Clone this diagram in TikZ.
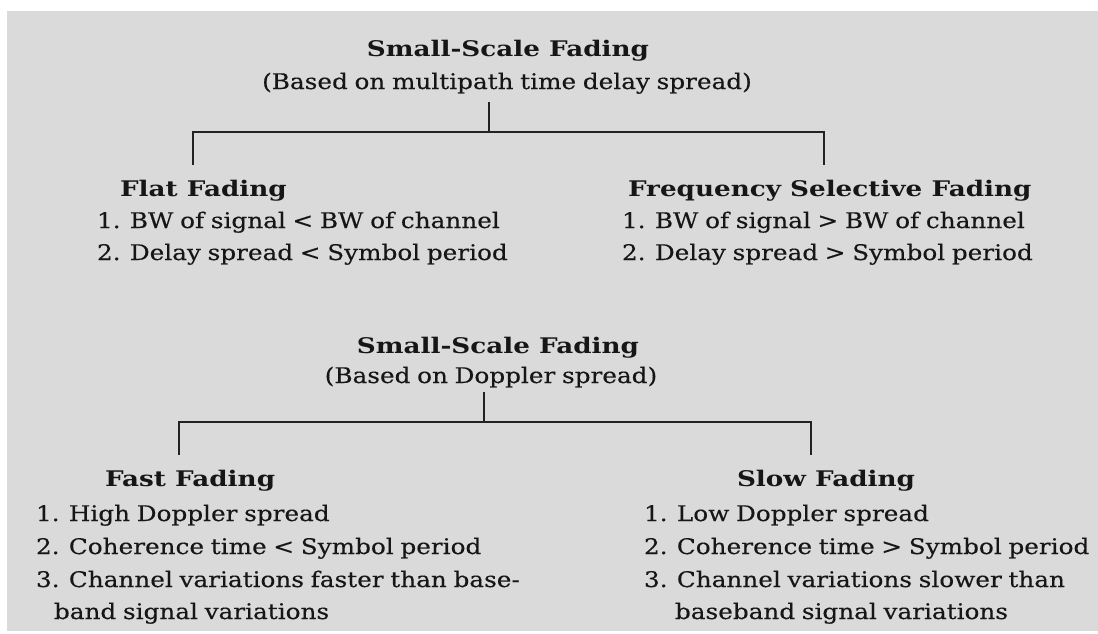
\documentclass[tikz,border=0pt]{standalone}
\usepackage{fontspec}
\setmainfont{DejaVu Serif}
% wide text faces for the body and the headings
\newfontfamily\bodyfont{DejaVu Serif}[FakeStretch=1.15, WordSpace=0.85, FakeBold=0.3]
\newfontfamily\headfont{DejaVu Serif}[FakeStretch=1.22]
\definecolor{panel}{RGB}{218,218,218}
\definecolor{ink}{RGB}{22,22,22}
\definecolor{linec}{RGB}{34,34,34}
\begin{document}
\begin{tikzpicture}[x=1pt,y=-1pt,
  txt/.style={inner sep=0pt, outer sep=0pt, text=ink,
    font=\bodyfont\fontsize{21.5}{25}\selectfont},
  head/.style={inner sep=0pt, outer sep=0pt, text=ink,
    font=\headfont\bfseries\fontsize{21.5}{25}\selectfont},
  link/.style={draw=linec, line width=1.6pt}]

% page and grey panel
\fill[white] (0,0) rectangle (1098,633);
\fill[panel] (7,11) rectangle (1098,631);
\useasboundingbox (0,0) rectangle (1098,633);

% ---- classification by multipath time delay spread ----
\node[head, anchor=base] (t1) at (508,56) {Small-Scale Fading};
\node[txt, anchor=base] (s1) at (507,89) {(Based on multipath time delay spread)};
\coordinate (s1top) at (489,102);
\coordinate (s1mid) at (489,132);
\coordinate (s1l) at (193,132);
\coordinate (s1r) at (824,132);
\coordinate (s1ld) at (193,165);
\coordinate (s1rd) at (824,165);
\draw[link] (s1top) -- (s1mid);
\draw[link] (s1ld) -- (s1l) -- (s1r) -- (s1rd);

\node[head, anchor=base west] (flat) at (120,196) {Flat Fading};
\node[txt, anchor=base west] (flat1) at (97,228) {1. BW of signal < BW of channel};
\node[txt, anchor=base west] (flat2) at (97,260) {2. Delay spread < Symbol period};

\node[head, anchor=base west] (fsf) at (628,196) {Frequency Selective Fading};
\node[txt, anchor=base west] (fsf1) at (622,228) {1. BW of signal > BW of channel};
\node[txt, anchor=base west] (fsf2) at (622,260) {2. Delay spread > Symbol period};

% ---- classification by Doppler spread ----
\node[head, anchor=base] (t2) at (498,353) {Small-Scale Fading};
\node[txt, anchor=base] (s2) at (491,383) {(Based on Doppler spread)};
\coordinate (s2top) at (484,392);
\coordinate (s2mid) at (484,422);
\coordinate (s2l) at (179,422);
\coordinate (s2r) at (811,422);
\coordinate (s2ld) at (179,455);
\coordinate (s2rd) at (811,455);
\draw[link] (s2top) -- (s2mid);
\draw[link] (s2ld) -- (s2l) -- (s2r) -- (s2rd);

\node[head, anchor=base west] (fast) at (105,486) {Fast Fading};
\node[txt, anchor=base west] (fast1) at (36,521) {1. High Doppler spread};
\node[txt, anchor=base west] (fast2) at (36,554) {2. Coherence time < Symbol period};
\node[txt, anchor=base west] (fast3) at (36,587) {3. Channel variations faster than base-};
\node[txt, anchor=base west] (fast3b) at (54,619) {band signal variations};

\node[head, anchor=base west] (slow) at (737,486) {Slow Fading};
\node[txt, anchor=base west] (slow1) at (644,521) {1. Low Doppler spread};
\node[txt, anchor=base west] (slow2) at (644,554) {2. Coherence time > Symbol period};
\node[txt, anchor=base west] (slow3) at (644,587) {3. Channel variations slower than};
\node[txt, anchor=base west] (slow3b) at (675,619) {baseband signal variations};
\end{tikzpicture}
\end{document}
